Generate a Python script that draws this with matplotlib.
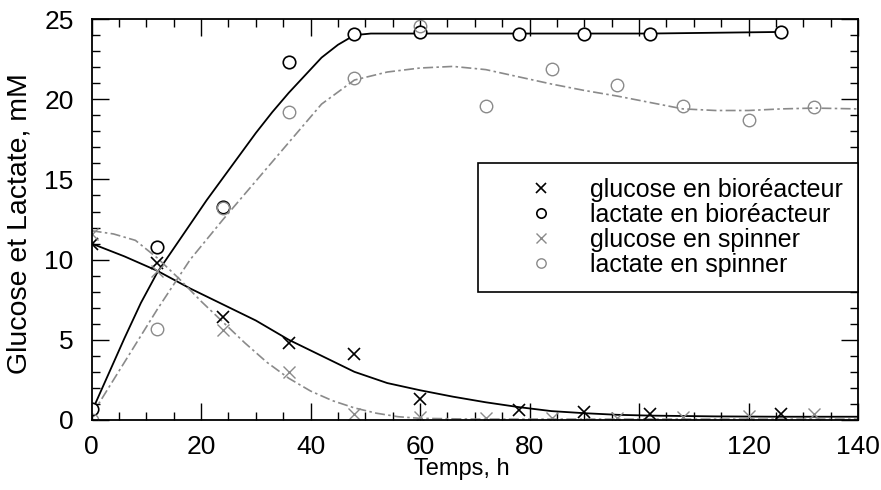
import matplotlib.pyplot as plt
import numpy as np

plt.rcParams['font.family'] = ['Liberation Sans', 'DejaVu Sans']

t_bio = [0, 12, 24, 36, 48, 60, 78, 90, 102, 126]
glc_bio = [11.0, 9.8, 6.4, 4.8, 4.1, 1.3, 0.6, 0.5, 0.4, 0.4]
lac_bio = [0.7, 10.8, 13.3, 22.3, 24.1, 24.2, 24.1, 24.1, 24.1, 24.2]

t_spin = [0, 12, 24, 36, 48, 60, 72, 84, 96, 108, 120, 132]
glc_spin = [11.6, 9.3, 5.6, 3.0, 0.4, 0.2, 0.1, 0.1, 0.15, 0.2, 0.25, 0.4]
lac_spin = [0.0, 5.7, 13.2, 19.2, 21.3, 24.6, 19.6, 21.9, 20.9, 19.6, 18.7, 19.5]

# fitted curves
tf_glc_bio = [0, 6, 12, 18, 24, 30, 36, 42, 48, 54, 60, 66, 72, 78, 84, 90, 96, 102, 114, 126, 140]
f_glc_bio = [11.0, 10.2, 9.3, 8.2, 7.2, 6.2, 5.0, 4.0, 3.0, 2.3, 1.85, 1.45, 1.1, 0.8, 0.55, 0.42, 0.32, 0.27, 0.22, 0.2, 0.2]

tf_lac_bio = [0, 3, 6, 9, 12, 15, 18, 21, 24, 27, 30, 33, 36, 39, 42, 45, 48, 51, 60, 78, 90, 102, 126]
f_lac_bio = [0.5, 2.8, 5.1, 7.3, 9.2, 10.7, 12.2, 13.7, 15.1, 16.5, 17.9, 19.2, 20.4, 21.5, 22.6, 23.4, 24.0, 24.1, 24.1, 24.1, 24.1, 24.1, 24.2]

tf_glc_spin = [0, 4, 8, 12, 16, 20, 24, 28, 32, 36, 40, 44, 48, 52, 56, 60, 70, 80, 100, 120, 140]
f_glc_spin = [11.8, 11.6, 11.2, 10.1, 8.8, 7.4, 6.1, 4.8, 3.6, 2.6, 1.8, 1.2, 0.75, 0.42, 0.2, 0.1, 0.05, 0.05, 0.05, 0.05, 0.05]

tf_lac_spin = [0, 6, 12, 18, 24, 30, 36, 42, 48, 54, 60, 66, 72, 78, 84, 90, 96, 102, 108, 114, 120, 126, 132, 140]
f_lac_spin = [0.3, 3.6, 6.9, 10.0, 12.5, 14.9, 17.3, 19.7, 21.2, 21.7, 21.95, 22.05, 21.85, 21.4, 20.95, 20.55, 20.2, 19.8, 19.4, 19.3, 19.3, 19.4, 19.45, 19.4]

labels = ['glucose en bioréacteur', 'lactate en bioréacteur',
          'glucose en spinner', 'lactate en spinner']

fig = plt.figure(figsize=(8.81, 4.90), dpi=100)
ax = fig.add_axes([0.104, 0.143, 0.870, 0.818])

grey = '#8a8a8a'
dashdot = (0, (6, 2, 1.5, 2))

# fitted curves
ax.plot(tf_glc_bio, f_glc_bio, color='black', lw=1.3)
ax.plot(tf_lac_bio, f_lac_bio, color='black', lw=1.3)
ax.plot(tf_glc_spin, f_glc_spin, color=grey, lw=1.2, ls=dashdot)
ax.plot(tf_lac_spin, f_lac_spin, color=grey, lw=1.2, ls=dashdot)

# measurements
ax.plot(t_bio, glc_bio, 'x', color='black', ms=9, mew=1.2, label=labels[0])
ax.plot(t_bio, lac_bio, 'o', mfc='white', mec='black', ms=9, mew=1.2, label=labels[1])
ax.plot(t_spin, glc_spin, 'x', color=grey, ms=9, mew=1.0, label=labels[2])
ax.plot(t_spin, lac_spin, 'o', mfc='none', mec=grey, ms=9, mew=1.0, label=labels[3])

ax.set_xlim(0, 140)
ax.set_ylim(0, 25)
ax.set_xticks(np.arange(0, 141, 20))
ax.set_xticks(np.arange(0, 141, 5), minor=True)
ax.set_yticks(np.arange(0, 26, 5))
ax.set_yticks(np.arange(0, 26, 1), minor=True)
ax.tick_params(which='both', direction='in', top=True, right=True, labelsize=19, width=1.0)
ax.tick_params(which='major', length=12)
ax.tick_params(which='minor', length=6)
ax.tick_params(axis='x', which='major', pad=11)
ax.tick_params(axis='y', which='major', pad=13)
for s in ax.spines.values():
    s.set_linewidth(1.3)

ax.set_xlabel('Temps, h', fontsize=17)
ax.xaxis.set_label_coords(0.483, -0.095)
ax.set_ylabel('Glucose et Lactate, mM', fontsize=20.5)
ax.yaxis.set_label_coords(-0.077, 0.49)

leg = ax.legend(loc='upper right', bbox_to_anchor=(1.0, 0.641), borderaxespad=0,
                fontsize=18, markerscale=0.75, handlelength=3.9, handletextpad=0.0,
                labelspacing=0.04, borderpad=0.6, fancybox=False, framealpha=1,
                edgecolor='black')
leg.get_frame().set_linewidth(1.2)

plt.savefig('out.png', dpi=100)
